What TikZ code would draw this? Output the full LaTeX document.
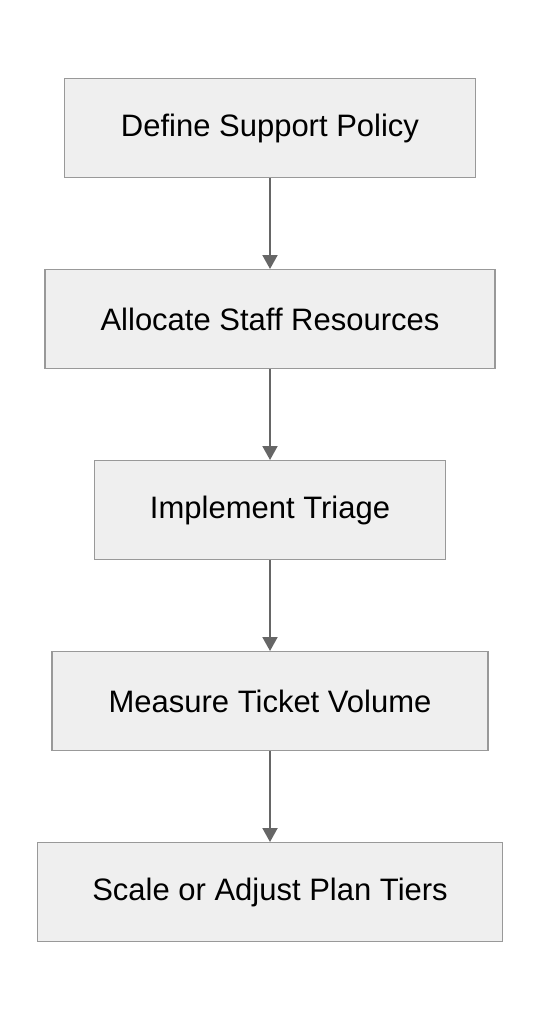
\documentclass[tikz,border=0pt]{standalone}
\usepackage{fontspec}
\setmainfont{Liberation Sans}
\usepackage{xcolor}
\usetikzlibrary{arrows.meta,positioning}

\definecolor{boxfill}{HTML}{EFEFEF}
\definecolor{boxline}{HTML}{999999}
\definecolor{arrowline}{HTML}{666666}

\begin{document}
\begin{tikzpicture}[
  x=1pt, y=-1pt,
  node distance=91pt,
  box/.style={draw=boxline, line width=1.3pt, fill=boxfill, align=center,
    minimum height=98.7pt, inner sep=0pt, font=\fontsize{31}{36}\selectfont},
  >={Triangle[length=14pt, width=15pt]}
]
  \useasboundingbox (0,0) rectangle (540,1020);
  \node[box, minimum width=411pt] (policy) at (270,128) {Define Support Policy};
  \node[box, minimum width=450pt, below=of policy] (staff) {Allocate Staff Resources};
  \node[box, minimum width=351pt, below=of staff] (triage) {Implement Triage};
  \node[box, minimum width=436pt, below=of triage] (volume) {Measure Ticket Volume};
  \node[box, minimum width=465pt, below=of volume] (tiers) {Scale or Adjust Plan Tiers};
  \draw[->, draw=arrowline, fill=arrowline, line width=2pt] (policy) -- (staff);
  \draw[->, draw=arrowline, fill=arrowline, line width=2pt] (staff) -- (triage);
  \draw[->, draw=arrowline, fill=arrowline, line width=2pt] (triage) -- (volume);
  \draw[->, draw=arrowline, fill=arrowline, line width=2pt] (volume) -- (tiers);
\end{tikzpicture}
\end{document}
